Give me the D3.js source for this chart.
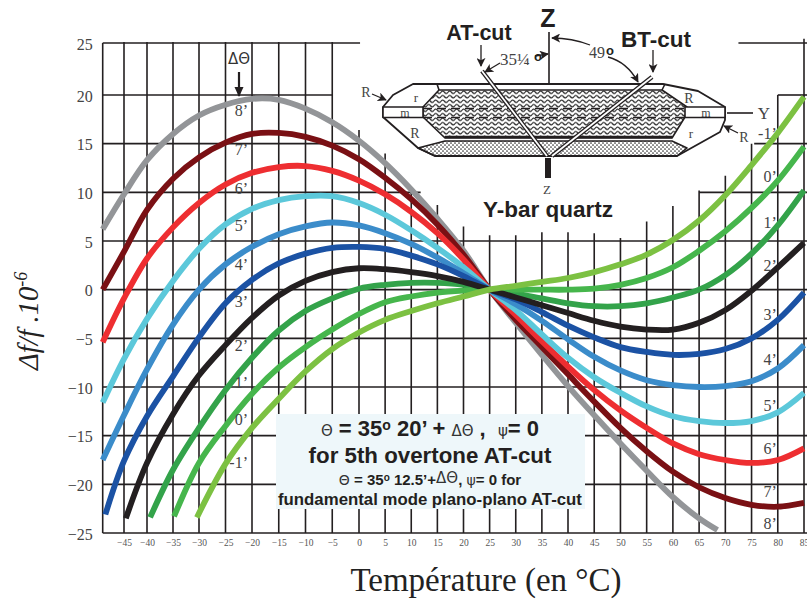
<!DOCTYPE html>
<html><head><meta charset="utf-8">
<script src="https://cdn.jsdelivr.net/npm/d3@7"></script>
<style>html,body{margin:0;padding:0;background:#fff}svg{display:block}text{white-space:pre}</style>
</head><body><div id="c"></div>
<script>
// ---------- data ----------
const xTicks = d3.range(-45, 90, 5);
const yTicks = d3.range(-25, 30, 5);
const tFull = [-49, ...xTicks];
const t8 = [-49, ...d3.range(-45, 70, 5), 68.5];
const t3 = [-48.5, ...xTicks];
const t2 = [-44.6, ...d3.range(-40, 90, 5)];
const t1 = [-39.4, ...d3.range(-35, 90, 5)];
const t0 = [-34.8, ...d3.range(-30, 90, 5)];
const tm1 = [-30.4, ...d3.range(-25, 90, 5)];
const v8 = [6.2,9.8,13.3,16,17.9,19,19.6,19.5,18.6,17.2,15.3,13,10.3,7.3,4,0,-3.4,-6.7,-9.9,-12.9,-15.8,-18.6,-21.3,-23.5,-24.7];
const v7 = [0,3.9,8.2,11.4,13.6,15.1,16,16.1,15.7,14.8,13.4,11.5,9.3,6.7,3.6,0,-3.1,-5.9,-8.7,-11.5,-14.2,-16.6,-18.7,-20.3,-21.4,-22.1,-22.3,-21.9];
const v6 = [-5.4,-0.9,3.2,6.4,8.9,10.8,12,12.6,12.7,12.2,11.2,9.8,8,5.8,3.1,0,-2.6,-5.3,-7.9,-10.3,-12.4,-14.2,-15.8,-16.9,-17.5,-17.8,-17.5,-16.3];
const v5 = [-11.6,-7.1,-3,0.9,4.2,6.7,8.3,9.2,9.6,9.6,8.9,7.7,6.1,4.3,2.3,0,-2.1,-4.6,-7,-9,-10.6,-12,-13,-13.5,-13.7,-13.5,-12.6,-10.6];
const v4 = [-17.5,-12.9,-8.2,-3.6,0,2.6,4.4,5.7,6.5,6.9,6.6,5.8,4.7,3.3,1.7,0,-1.5,-3.2,-5.1,-6.9,-8.3,-9.3,-9.8,-10,-9.9,-9.4,-8.1,-5.7];
const v3 = [-23.1,-17.6,-13,-8.9,-4.9,-1.4,1,2.7,3.7,4.3,4.4,4.2,3.5,2.6,1.4,0,-1,-2.3,-3.7,-4.9,-5.9,-6.4,-6.7,-6.6,-6.1,-5,-3.1,-0.3];
const v2 = [-23.5,-17.8,-12.8,-8.8,-5.7,-2.9,-0.6,0.9,1.8,2.2,2.1,1.8,1.4,0.8,0,-0.8,-1.6,-2.4,-3.2,-3.8,-4.1,-4.1,-3.4,-2.1,-0.1,2.3,4.8];
const v1 = [-23.4,-18.5,-14.2,-10.3,-7,-4.2,-2.2,-0.9,0.1,0.5,0.7,0.7,0.5,0,-0.4,-0.9,-1.4,-1.7,-1.7,-1.4,-0.8,0,1.5,3.7,6.6,10.2];
const v0 = [-23.3,-17.8,-14,-10.7,-8,-5.9,-4.1,-2.5,-1.3,-0.7,-0.3,-0.1,0,0,0,0,0.1,0.5,1.2,2.3,4,6,8.4,11.2,14.7];
const vm1 = [-23.4,-17.9,-14.2,-11.2,-8.4,-6.1,-4.4,-3.1,-2.2,-1.4,-0.7,0,0.4,0.8,1.2,1.8,2.6,3.6,5.1,7.1,9.7,12.8,16.1,19.8];
const seriesNames = ["8’","7’","6’","5’","4’","3’","1’","0’","2’","-1’"];
const seriesColors = ["#939598","#7a1014","#ee2e31","#5cc8da","#3b8cca","#1b52a4","#33a34a","#46b64c","#231f20","#7cc142"];
const seriesT = [t8,tFull,tFull,tFull,tFull,t3,t1,t0,t2,tm1];
const seriesV = [v8,v7,v6,v5,v4,v3,v1,v0,v2,vm1];
const gridTopV = [25.1,25.1,25.1,25.1,25.1,25.1,25.1,25.1,25.1,16.4,14,10.2,8.7,6.5,5.6,5.6,5.9,5.9,5.8,5.3,7,8.6,10.2,11.7,15,20,25.4];
const hLevels = [25,20,15,10];
const hLeftEnd = [0.2,-5,0,11.8];
const hRightStart = [72.5,80,75.5,65];
const leftLabels = ["8’","7’","6’","5’","4’","3’","2’","1’","0’","-1’"];
const leftLabelV = [18.4,14.3,10.3,6.5,2.5,-1.3,-5.8,-9.6,-13.4,-17.8];
const rightLabels = ["8’","7’","6’","5’","4’","3’","2’","1’","0’","-1’"];
const rightLabelV = [-24.1,-20.8,-16.4,-12,-7.2,-2.6,2.4,6.9,11.6,16];

// ---------- scales ----------
const W = 807, H = 601;
const x = d3.scaleLinear().domain([-49,-45,-40,-30,-20,0,40,85]).range([102.7,124,147,199,252,359,568,804]);
const y = d3.scaleLinear().domain([-25,20,25]).range([533,95,43]);
const svg = d3.select("#c").append("svg").attr("width",W).attr("height",H).attr("viewBox",[0,0,W,H]);
const ink = "#231f20", serif = "'Liberation Serif',serif", sans = "'Liberation Sans',Arial,sans-serif";

// ---------- grid ----------
const grid = svg.append("g").attr("stroke",ink).attr("stroke-width",1.6);
grid.selectAll("line.v").data(xTicks).join("line").attr("class","v")
  .attr("x1",d=>x(d)).attr("x2",d=>x(d)).attr("y1",(d,i)=>y(gridTopV[i])).attr("y2",y(-25));
yTicks.filter(d=>d<=5).forEach(d=>{
  grid.append("line").attr("x1",x(-49)).attr("x2",W).attr("y1",y(d)).attr("y2",y(d));
});
hLevels.forEach((d,i)=>{
  grid.append("line").attr("x1",x(-49)).attr("x2",x(hLeftEnd[i])).attr("y1",y(d)).attr("y2",y(d));
  grid.append("line").attr("x1",x(hRightStart[i])).attr("x2",W).attr("y1",y(d)).attr("y2",y(d));
});
grid.append("line").attr("x1",x(-49)).attr("x2",x(-49)).attr("y1",y(25)).attr("y2",y(-25));

// ---------- axes ----------
const xAxis = svg.append("g").attr("transform",`translate(0,${y(-25)})`)
  .call(d3.axisBottom(x).tickValues(xTicks).tickSize(0).tickPadding(5).tickFormat(d3.format("d")));
xAxis.select(".domain").remove();
xAxis.selectAll("text").attr("font-family",serif).attr("font-size",9.5).attr("fill","#555").attr("dy","0.85em");
const yAxis = svg.append("g").attr("transform",`translate(${x(-49)},1)`)
  .call(d3.axisLeft(y).tickValues(yTicks).tickSize(0).tickPadding(10).tickFormat(d3.format("d")));
yAxis.select(".domain").remove();
yAxis.selectAll("text").attr("font-family",serif).attr("font-size",16).attr("fill","#444");

// ---------- curves ----------
const line = d3.line().x(d=>x(d[0])).y(d=>y(d[1])).curve(d3.curveCatmullRom.alpha(0.5));
svg.append("g").attr("fill","none").attr("stroke-width",5.8).selectAll("path")
  .data(seriesNames).join("path")
  .attr("stroke",(d,i)=>seriesColors[i])
  .attr("d",(d,i)=>line(seriesT[i].map((t,j)=>[t,seriesV[i][j]])));

// ---------- curve labels ----------
const lab = svg.append("g").attr("font-family",serif).attr("font-size",16).attr("fill","#444").attr("text-anchor","end");
lab.selectAll("text.l").data(leftLabels).join("text").attr("class","l")
  .attr("x",x(-20)-4).attr("y",(d,i)=>y(leftLabelV[i])+5).text(d=>d);
lab.selectAll("text.r").data(rightLabels).join("text").attr("class","r")
  .attr("x",x(80)-1).attr("y",(d,i)=>y(rightLabelV[i])+5).text(d=>d);

// ---------- helpers ----------
function rich(g,px,py,anchor,parts){
  const t=g.append("text").attr("x",px).attr("y",py).attr("text-anchor",anchor);
  parts.forEach(p=>{
    const s=t.append("tspan").text(p.t).attr("font-family",p.f||sans).attr("font-size",p.s)
      .attr("font-weight",p.w||"bold").attr("fill",p.c||ink);
    if(p.dy) s.attr("dy",p.dy);
    if(p.i) s.attr("font-style","italic");
  });
  return t;
}
const defs = svg.append("defs");
const arrowHead = defs.append("marker").attr("id","ah").attr("viewBox","0 0 10 10").attr("refX",9).attr("refY",5)
  .attr("markerWidth",9).attr("markerHeight",9).attr("markerUnits","userSpaceOnUse").attr("orient","auto");
arrowHead.append("path").attr("d","M0 0L10 5L0 10L2.5 5Z").attr("fill",ink);
const wave = defs.append("pattern").attr("id","wave").attr("width",7).attr("height",4.5).attr("patternUnits","userSpaceOnUse");
wave.append("path").attr("d","M0 2.25Q1.75 -0.2 3.5 2.25T7 2.25").attr("fill","none").attr("stroke","#222").attr("stroke-width",1.25);
const dots = defs.append("pattern").attr("id","dots").attr("width",4).attr("height",4).attr("patternUnits","userSpaceOnUse");
dots.append("circle").attr("cx",1).attr("cy",1).attr("r",.85).attr("fill","#333");
dots.append("circle").attr("cx",3).attr("cy",3).attr("r",.85).attr("fill","#333");

// ---------- Delta-theta arrow ----------
rich(svg,239,64,"middle",[{t:"ΔΘ",s:15,w:"normal",c:"#333",f:"'DejaVu Sans',sans-serif"}]);
svg.append("line").attr("x1",239).attr("x2",239).attr("y1",72).attr("y2",96).attr("stroke",ink).attr("stroke-width",2.2);
svg.append("path").attr("d","M234.5 87L243.5 87L239 97Z").attr("fill",ink);

// ---------- crystal diagram ----------
const dg = svg.append("g").attr("stroke",ink).attr("stroke-width",1.6).attr("stroke-linejoin","round");
dg.append("path").attr("fill","#fff").attr("stroke-width",1.8)
  .attr("d","M383 107L393 95L413 84L663 84L698 91L725 107L725 120L720 132L677 156L435 156L418 148L383 117Z");
dg.append("path").attr("fill","url(#wave)").attr("d","M439 90L662 90L687 107L685 117L672 138L445 138L423 117L423 107Z");
dg.append("path").attr("fill","url(#dots)").attr("d","M445 141L672 141L687 148L677 156L435 156L418 148Z");
dg.append("path").attr("fill","none").attr("d","M437 84L439 90M665 84L662 90");
dg.append("rect").attr("x",383).attr("y",107).attr("width",40).attr("height",10.5).attr("fill","#fff");
dg.append("rect").attr("x",685).attr("y",107).attr("width",40).attr("height",10.5).attr("fill","#fff");
dg.append("line").attr("x1",445).attr("x2",672).attr("y1",137).attr("y2",137).attr("stroke-width",2.6);
dg.append("line").attr("x1",423).attr("x2",685).attr("y1",108.5).attr("y2",108.5).attr("stroke-width",1.5).attr("stroke-dasharray","9 5");
dg.append("line").attr("x1",423).attr("x2",685).attr("y1",117.5).attr("y2",117.5).attr("stroke-width",1.5).attr("stroke-dasharray","9 5");
[[482,71,547,156],[652,77,552,156]].forEach(c=>{
  dg.append("line").attr("x1",c[0]).attr("y1",c[1]).attr("x2",c[2]).attr("y2",c[3]).attr("stroke-width",4.4);
  dg.append("line").attr("x1",c[0]).attr("y1",c[1]).attr("x2",c[2]).attr("y2",c[3]).attr("stroke","#fff").attr("stroke-width",1.8);
});
dg.append("line").attr("x1",549).attr("x2",549).attr("y1",32).attr("y2",84);
dg.append("line").attr("x1",548).attr("x2",548).attr("y1",158).attr("y2",178).attr("stroke-width",6);
dg.append("line").attr("x1",727).attr("x2",753).attr("y1",113).attr("y2",113);
const arrows = ["M481 45L481 66","M653 50L653 72","M372 94L386 100","M738 133L724 126","M500 63L485 72","M535 56L548 54",
  "M590 45Q572 38 552 38","M608 57Q627 62 638 82"];
arrows.forEach(d=>dg.append("path").attr("d",d).attr("fill","none").attr("stroke-width",1.3).attr("marker-end","url(#ah)"));
const dt = svg.append("g");
rich(dt,548,27,"middle",[{t:"Z",s:25}]);
rich(dt,479,40,"middle",[{t:"AT-cut",s:21.5}]);
rich(dt,656,47,"middle",[{t:"BT-cut",s:22.5}]);
rich(dt,548,217,"middle",[{t:"Y-bar quartz",s:22.5}]);
rich(dt,547,194,"middle",[{t:"Z",s:13,w:"normal",f:serif,c:"#444"}]);
rich(dt,500,65,"start",[{t:"35¼",s:17,w:"normal",f:serif,c:"#444"}]);
rich(dt,538,61,"middle",[{t:"o",s:13}]);
rich(dt,597,58,"middle",[{t:"49",s:16,w:"normal",f:serif,c:"#444"}]);
rich(dt,610,55,"middle",[{t:"o",s:13}]);
rich(dt,764,119,"middle",[{t:"Y",s:17,w:"normal",f:serif,c:"#444"}]);
[["R",366,92,14],["r",416,98,13],["m",405,113,12],["R",415,133,14],["R",689,98,14],["m",706,113,12],["r",691,134,13],["R",744,137,14]]
  .forEach(a=>rich(dt,a[1],a[2]+a[3]*0.33,"middle",[{t:a[0],s:a[3],w:"normal",f:serif,c:"#444"}]));

// ---------- info box ----------
svg.append("rect").attr("x",276).attr("y",414).attr("width",309).attr("height",95).attr("fill","#eef7fa");
const ib = svg.append("g");
const thin = {w:"normal",c:"#333",f:"'DejaVu Sans',sans-serif"};
rich(ib,430,436,"middle",[{t:"Θ",s:15,...thin},{t:" = 35",s:22},{t:"o",s:14,dy:-6},{t:" 20’ + ",s:22,dy:6},{t:"ΔΘ",s:15,...thin},{t:" ,  ",s:22},{t:"ψ",s:15,...thin},{t:"= 0",s:22}]);
rich(ib,430,463,"middle",[{t:"for 5th overtone AT-cut",s:22.3}]);
rich(ib,430,485,"middle",[{t:"Θ",s:14,...thin},{t:" = 35",s:15},{t:"o",s:10,dy:-4},{t:" 12.5’+",s:15,dy:4},{t:"ΔΘ",s:15,...thin,dy:-2},{t:", ",s:15,dy:2},{t:"ψ",s:14,...thin},{t:"= 0 for",s:15}]);
rich(ib,430,505,"middle",[{t:"fundamental mode plano-plano AT-cut",s:16.8}]);

// ---------- axis titles ----------
rich(svg,486,591,"middle",[{t:"Température (en °C)",s:33,w:"normal",f:serif,c:"#222"}]);
const yt = svg.append("g").attr("transform","translate(38,370) rotate(-90)");
rich(yt,0,0,"start",[{t:"Δf/f .10",s:28.5,w:"normal",f:serif,i:1,c:"#222"},{t:"-6",s:18,w:"normal",f:serif,i:1,c:"#222",dy:-11}]);
</script></body></html>
